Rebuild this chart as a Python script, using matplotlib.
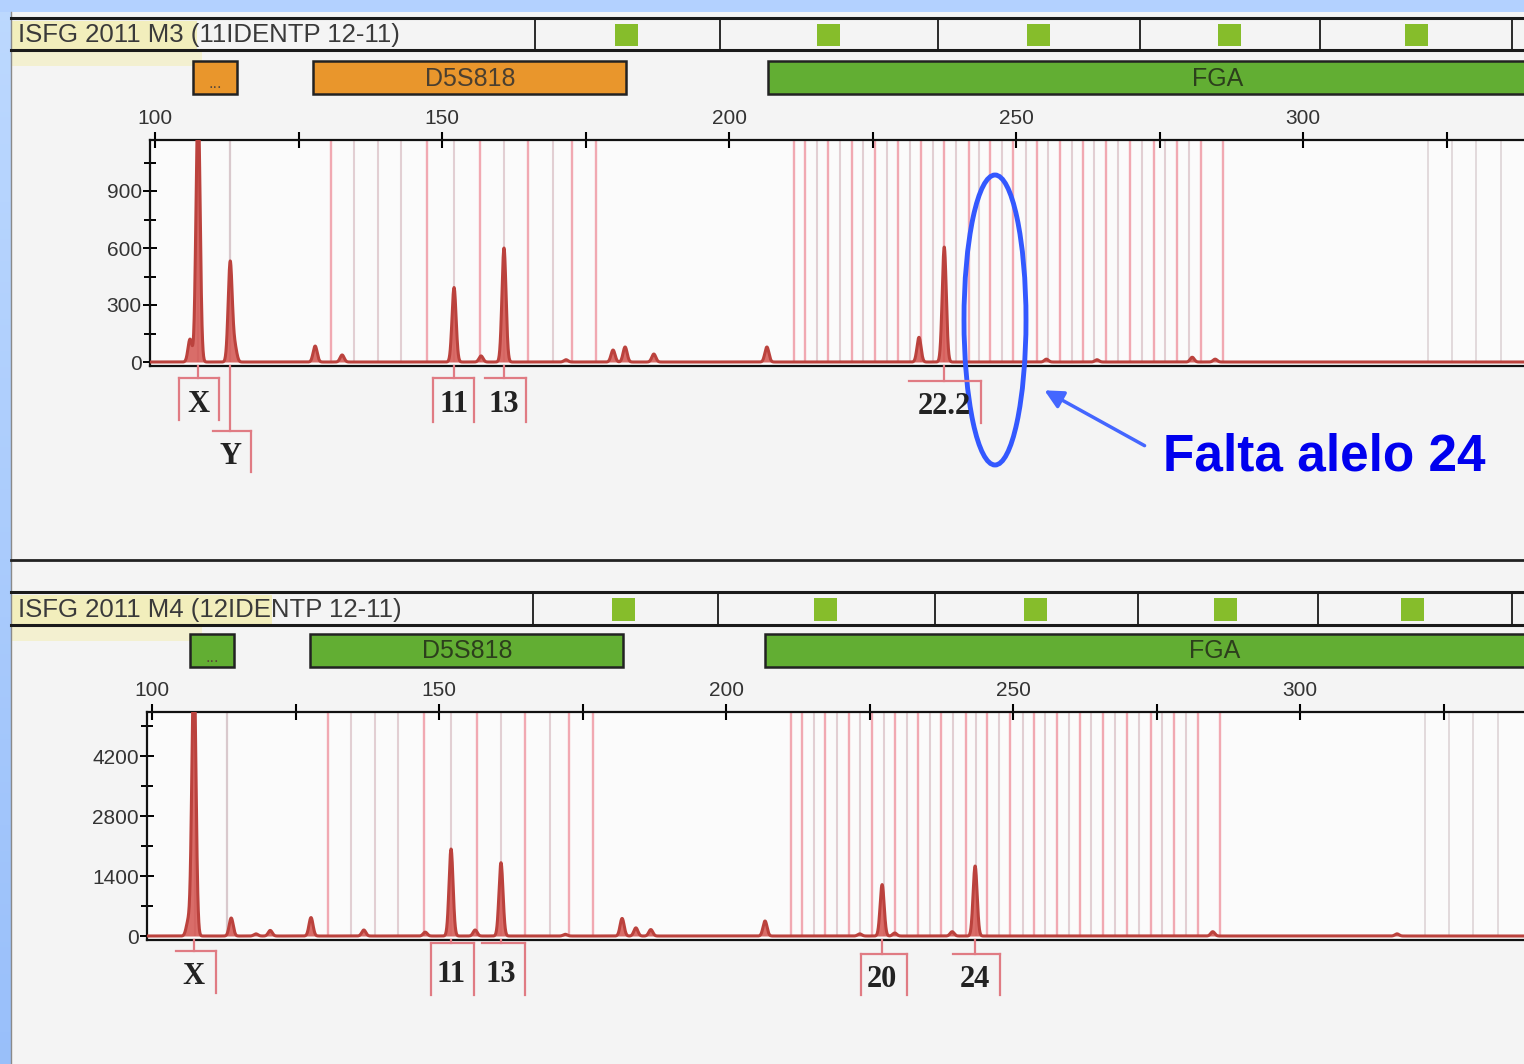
import numpy as np
import matplotlib.pyplot as plt
from matplotlib import transforms
from matplotlib.patches import Rectangle, Ellipse

W, H = 1524, 1064

# allele bins (bp)
amel_bins = [107.5, 113.1]
d5_bins_pink = [130.7, 147.4, 156.6, 165.0, 172.6, 176.8]
d5_bins_gray = [134.7, 138.8, 142.9, 152.1, 160.8, 169.3]
fga_bins_pink = [211.3, 213.3, 217.3, 221.4, 225.4, 229.4, 233.4, 237.5, 241.8, 245.5,
                 249.5, 253.7, 257.7, 261.7, 265.7, 269.9, 274.0, 278.0, 282.2, 286.1]
fga_bins_gray = [215.4, 219.3, 223.3, 227.5, 231.5, 235.5, 239.5, 243.6, 247.6, 251.7,
                 255.5, 259.8, 263.6, 267.8, 271.9, 275.9, 280.1]
extra_bins = [321.8, 326.0, 330.1, 334.5]

# marker size ranges (bp)
markers = ["...", "D5S818", "FGA"]
marker_start = [106.6, 127.6, 206.8]
marker_end = [114.3, 182.1, 363.6]

# sample M3: peak size (bp) and height (RFU)
m3_size = [106.1, 107.5, 113.1, 113.9, 127.9, 132.6, 152.1, 156.8, 160.8, 171.6,
           179.8, 181.9, 186.9, 206.6, 233.1, 237.5, 255.3, 264.1, 280.7, 284.7]
m3_rfu = [120, 1400, 526, 80, 84, 37, 392, 32, 600, 12,
          63, 79, 42, 79, 130, 605, 15, 12, 25, 15]
m3_alleles = ["X", "Y", "11", "13", "22.2"]
m3_allele_size = [107.5, 113.1, 152.1, 160.8, 237.5]

# sample M4
m4_size = [106.3, 107.3, 113.8, 118.1, 120.6, 127.7, 136.9, 147.6, 152.1, 156.3,
           160.8, 172.0, 181.9, 184.3, 186.9, 206.8, 223.3, 227.2, 229.4, 239.4,
           243.4, 284.8, 316.9]
m4_rfu = [330, 6500, 420, 50, 130, 430, 140, 90, 2030, 140,
          1710, 40, 410, 190, 150, 350, 50, 1200, 70, 100,
          1633, 100, 50]
m4_alleles = ["X", "11", "13", "20", "24"]
m4_allele_size = [107.3, 152.1, 160.8, 227.2, 243.4]

PX_PER_BP = 5.74
ORANGE = "#e9962c"
GREEN = "#62ae33"
SQUARE = "#86bd2b"
PEAK = "#d4544f"
PEAK_EDGE = "#bb423d"

panels = [
    dict(title="ISFG 2011 M3 (11IDENTP 12-11)", size=m3_size, rfu=m3_rfu,
         alleles=m3_alleles, allele_size=m3_allele_size,
         header=(18, 50), bars=(61, 94), frame=(150, 140, 366), zero=362,
         rfu_per_px=300 / 57, yticks=[0, 300, 600, 900], yminor=[150, 450, 750, 1050],
         bar_colors=[ORANGE, ORANGE, GREEN],
         dividers=[535, 720, 938, 1140, 1320, 1512],
         squares=[615, 817, 1027, 1218, 1405],
         # label boxes: top, bottom, left/right offsets (px), sides
         boxes=[(378, 420, -19, 21, "lr"), (431, 472, -17, 21, "r"),
                (378, 422, -21, 20, "lr"), (378, 422, -19, 22, "r"),
                (381, 423, -35, 37, "r")]),
    dict(title="ISFG 2011 M4 (12IDENTP 12-11)", size=m4_size, rfu=m4_rfu,
         alleles=m4_alleles, allele_size=m4_allele_size,
         header=(592, 625), bars=(634, 667), frame=(147, 712, 940), zero=936,
         rfu_per_px=1400 / 60, yticks=[0, 1400, 2800, 4200], yminor=[700, 2100, 3500, 4900],
         bar_colors=[GREEN, GREEN, GREEN],
         dividers=[533, 718, 935, 1138, 1318, 1512],
         squares=[612, 814, 1024, 1214, 1401],
         boxes=[(951, 993, -18, 22, "r"), (943, 995, -20, 23, "lr"),
                (943, 995, -19, 24, "r"), (954, 995, -21, 25, "lr"),
                (954, 995, -22, 25, "r")]),
]

plt.rcParams['font.family'] = ['Liberation Sans', 'DejaVu Sans']

fig = plt.figure(figsize=(W / 100, H / 100), dpi=100)
fig.patch.set_facecolor("#f4f4f4")

# page background and slide frame
bg = fig.add_axes([0, 0, 1, 1], zorder=0)
bg.axis("off")
grad = np.linspace(0, 1, 200)[:, None, None]
top_c = np.array([0.74, 0.85, 1.0])
bot_c = np.array([0.60, 0.75, 0.98])
bg.imshow(top_c * (1 - grad) + bot_c * grad, extent=(0, 11, H, 0), aspect="auto")
bg.add_patch(Rectangle((0, 0), W, 12, color="#b3d1ff", lw=0))
bg.set_xlim(0, W)
bg.set_ylim(H, 0)

ov = fig.add_axes([0, 0, 1, 1], zorder=5)
ov.set_facecolor("none")
ov.axis("off")
ov.set_xlim(0, W)
ov.set_ylim(H, 0)
ov.set_autoscale_on(False)

ov.plot([11, 11], [12, H], color="#8a8a8a", lw=1)
ov.plot([11, W], [560, 560], color="#222222", lw=2)

for p in panels:
    left, top, bottom = p["frame"]
    rpp = p["rfu_per_px"]
    ymin = -(bottom - p["zero"]) * rpp
    ymax = ymin + (bottom - top) * rpp
    x0 = 100 - 5 / PX_PER_BP
    x1 = x0 + (W - left) / PX_PER_BP

    ax = fig.add_axes([left / W, 1 - bottom / H, (W - left) / W, (bottom - top) / H], zorder=2)
    ax.set_facecolor("#fbfbfb")
    ax.set_xlim(x0, x1)
    ax.set_ylim(ymin, ymax)

    # bins
    ax.vlines(amel_bins, 0, ymax, colors="#d9c9cd", lw=1.6, zorder=1)
    ax.vlines(d5_bins_pink + fga_bins_pink, 0, ymax, colors="#f1a9b2", lw=1.7, zorder=1)
    ax.vlines(d5_bins_gray + fga_bins_gray, 0, ymax, colors="#e2cfd3", lw=1.5, zorder=1)
    ax.vlines(extra_bins, 0, ymax, colors="#e2dadc", lw=1.4, zorder=1)

    # electropherogram trace
    x = np.linspace(x0, x1, 8000)
    y = np.zeros_like(x)
    for s, h in zip(p["size"], p["rfu"]):
        y += h * np.exp(-0.5 * ((x - s) / 0.35) ** 2)
    ax.fill_between(x, 0, y, color=PEAK, alpha=0.85, lw=0, zorder=3)
    ax.plot(x, y, color=PEAK_EDGE, lw=2.2, zorder=4)

    ax.spines["right"].set_visible(False)
    for side in ["top", "left", "bottom"]:
        ax.spines[side].set_linewidth(1.6)
        ax.spines[side].set_color("#111111")

    ax.xaxis.tick_top()
    xt = [100, 125, 150, 175, 200, 225, 250, 275, 300, 325]
    ax.set_xticks(xt)
    ax.set_xticklabels([str(v) if v % 50 == 0 else "" for v in xt])
    ax.tick_params(axis="x", direction="inout", length=11, width=1.5, pad=3,
                   labelsize=15, labelcolor="#333333")
    ax.set_yticks(p["yticks"])
    ax.set_yticks(p["yminor"], minor=True)
    ax.tick_params(axis="y", which="major", direction="inout", length=10, width=1.4,
                   pad=1, labelsize=15, labelcolor="#333333")
    ax.tick_params(axis="y", which="minor", direction="inout", length=8, width=1.4)

    tr = transforms.blended_transform_factory(ax.transData, ov.transData)

    # header row
    ht, hb = p["header"]
    ov.plot([11, W], [ht, ht], color="#1a1a1a", lw=2.2)
    ov.plot([11, W], [hb, hb], color="#1a1a1a", lw=2.2)
    for xd in p["dividers"]:
        ov.plot([xd, xd], [ht, hb], color="#1a1a1a", lw=1.3)
    for xs in p["squares"]:
        ov.add_patch(Rectangle((xs, ht + 6), 23, hb - ht - 10, color=SQUARE, lw=0))
    ov.add_patch(Rectangle((12, ht + 3), 185 + (ht > 100) * 75, hb - ht - 2,
                           color="#f2ea86", alpha=0.5, lw=0))
    ov.add_patch(Rectangle((12, hb + 2), 190, 14, color="#f2ec9a", alpha=0.4, lw=0))
    ov.text(18, (ht + hb) / 2 + 1, p["title"], fontsize=18.5, color="#3a3a3a",
            ha="left", va="center")

    # marker bars
    bt, bb = p["bars"]
    for name, s, e, c in zip(markers, marker_start, marker_end, p["bar_colors"]):
        ov.add_patch(Rectangle((s, bt), e - s, bb - bt, transform=tr, facecolor=c,
                               edgecolor="#222222", lw=1.8, clip_on=False))
        if name == "...":
            ov.text((s + e) / 2, bb - 10, name, transform=tr, fontsize=12,
                    color="#5a4a3a", ha="center", va="center")
        else:
            ov.text((s + e) / 2, (bt + bb) / 2 + 1, name, transform=tr, fontsize=18,
                    color="#4a3f30" if c == ORANGE else "#2c3f1c", ha="center", va="center")

    # allele call boxes
    for name, s, (bt2, bb2, lo, hi, sides) in zip(p["alleles"], p["allele_size"], p["boxes"]):
        xl = s + lo / PX_PER_BP
        xr = s + hi / PX_PER_BP
        kw = dict(transform=tr, color="#e07b83", lw=1.6, clip_on=False)
        ov.plot([s, s], [bottom, bt2], **kw)
        ov.plot([xl, xr], [bt2, bt2], **kw)
        if "l" in sides:
            ov.plot([xl, xl], [bt2, bb2], **kw)
        ov.plot([xr, xr], [bt2, bb2], **kw)
        ov.text(s, (bt2 + bb2) / 2 + 5, name, transform=tr, fontsize=22,
                family=["Liberation Serif", "DejaVu Serif"], weight="bold",
                color="#222222", ha="center", va="center")

# missing allele callout
ov.add_patch(Ellipse((995, 320), 62, 290, fill=False, edgecolor="#3358ff", lw=3.5))
ov.annotate("", xy=(1042, 389), xytext=(1147, 447),
            arrowprops=dict(arrowstyle="-|>", color="#4466ff", lw=2.5, mutation_scale=28))
ov.text(1163, 457, "Falta alelo 24", fontsize=37, weight="bold", color="#0000ee",
        ha="left", va="center")

fig.savefig("out.png", dpi=100, facecolor=fig.get_facecolor())
